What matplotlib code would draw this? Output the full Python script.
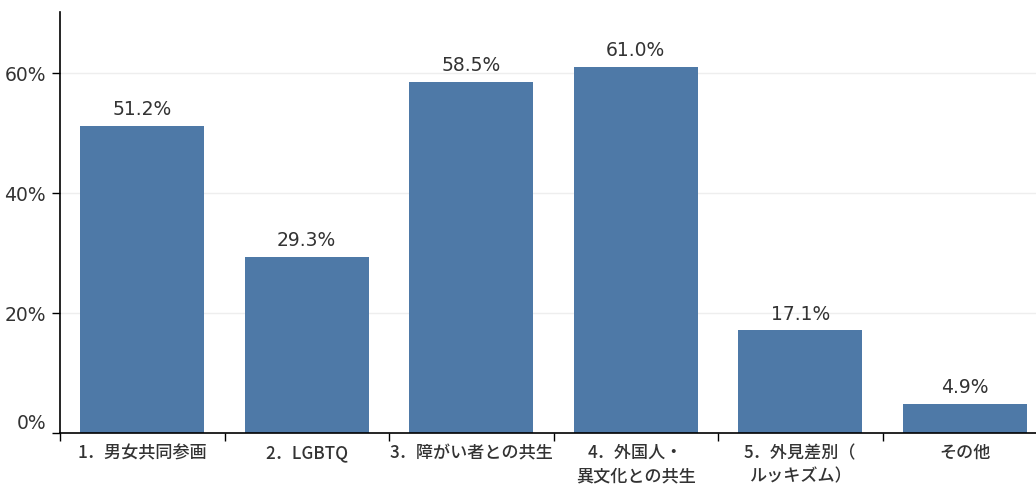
import matplotlib
matplotlib.use('Agg')
import matplotlib.pyplot as plt
from matplotlib.ticker import FuncFormatter

plt.rcParams['font.family'] = ['Noto Sans CJK JP', 'DejaVu Sans']

# survey results (% of respondents)
categories = ['1．男女共同参画', '2．LGBTQ', '3．障がい者との共生',
              '4．外国人・\n異文化との共生', '5．外見差別（\nルッキズム）', 'その他']
values = [51.2, 29.3, 58.5, 61.0, 17.1, 4.9]
yticks = [0, 20, 40, 60]

bar_color = '#4e79a7'
text_color = '#333333'

fig = plt.figure(figsize=(10.36, 4.88), dpi=100)
ax = fig.add_axes([60 / 1036, 55 / 488, 987 / 1036, 421 / 488])

x = list(range(len(categories)))
bars = ax.bar(x, values, width=0.755, color=bar_color, zorder=2)

for xi, v in zip(x, values):
    ax.annotate(f'{v:.1f}%', (xi, v), xytext=(0, 5), textcoords='offset points',
                ha='center', va='bottom', fontsize=13.5, color=text_color,
                family='DejaVu Sans')

ax.set_xlim(-0.5, len(categories) - 0.5)
ax.set_ylim(0, 70.2)

# ticks on the boundaries between categories, labels in the middle
ax.set_xticks([i - 0.5 for i in range(len(categories) + 1)])
ax.set_xticklabels([])
ax.set_xticks(x, minor=True)
ax.set_xticklabels(categories, minor=True, fontsize=12.3, color=text_color,
                   fontweight='medium', linespacing=1.4)
ax.tick_params(axis='x', which='major', length=6, width=1, color='black', direction='out')
ax.tick_params(axis='x', which='minor', length=0, pad=8)

ax.set_yticks(yticks)
ax.yaxis.set_major_formatter(FuncFormatter(lambda v, p: f'{v:.0f}%'))
ax.tick_params(axis='y', length=6, width=1, color='black', labelsize=13.5,
               labelcolor=text_color, pad=4)
for lab in ax.get_yticklabels():
    lab.set_family('DejaVu Sans')
# keep the 0% label clear of the bottom axis line
ax.get_yticklabels()[0].set_va('bottom')

ax.grid(axis='y', color='#eeeeee', linewidth=1, zorder=0)
ax.set_axisbelow(True)

for side in ['top', 'right']:
    ax.spines[side].set_visible(False)
ax.spines['left'].set_color('black')
ax.spines['bottom'].set_color('black')
ax.spines['left'].set_linewidth(1.2)
ax.spines['bottom'].set_linewidth(1.2)

fig.savefig('out.png', dpi=100)
